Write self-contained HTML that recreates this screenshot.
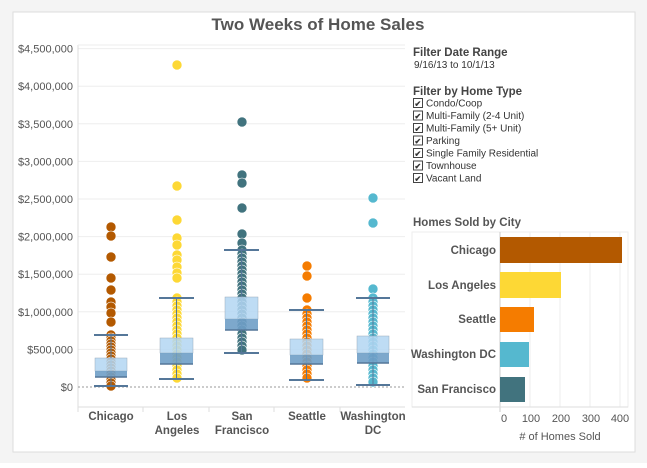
<!DOCTYPE html>
<html><head><meta charset="utf-8"><style>
body{margin:0;background:#fff;width:647px;height:463px;overflow:hidden;font-family:"Liberation Sans",sans-serif}
</style></head><body>
<svg id="s" width="647" height="463" xmlns="http://www.w3.org/2000/svg" font-family="Liberation Sans, sans-serif">
<rect x="0" y="0" width="647" height="463" fill="#f4f4f4"/>
<rect x="13" y="12" width="622" height="440" fill="#fff" stroke="#ddd"/>
<text x="318" y="30" text-anchor="middle" font-size="17" font-weight="bold" fill="#555">Two Weeks of Home Sales</text>
<g id="grid" stroke="#eee" stroke-width="1"></g>
<line x1="78" y1="45" x2="78" y2="407" stroke="#ddd"/>
<line x1="78" y1="45" x2="405" y2="45" stroke="#eee"/>
<line x1="78" y1="407" x2="405" y2="407" stroke="#ddd"/>
<line x1="78" y1="387" x2="405" y2="387" stroke="#999" stroke-dasharray="2,2"/>
<g id="ylab" font-size="11" fill="#555" text-anchor="end"></g>
<g id="dots"></g>
<g id="boxes"></g>
<g font-size="11.5" font-weight="bold" fill="#555" text-anchor="middle">
<text x="111" y="420">Chicago</text>
<text x="177" y="420">Los</text><text x="177" y="434">Angeles</text>
<text x="242" y="420">San</text><text x="242" y="434">Francisco</text>
<text x="307" y="420">Seattle</text>
<text x="373" y="420">Washington</text><text x="373" y="434">DC</text>
</g>
<g stroke="#ddd"><line x1="143" y1="407" x2="143" y2="412"/><line x1="209" y1="407" x2="209" y2="412"/><line x1="274" y1="407" x2="274" y2="412"/><line x1="340" y1="407" x2="340" y2="412"/><line x1="78" y1="407" x2="78" y2="412"/></g>
<g font-size="11.5" fill="#333">
<text x="413" y="56" font-weight="bold" fill="#444">Filter Date Range</text>
<text x="414" y="68" font-size="10">9/16/13 to 10/1/13</text>
<text x="413" y="95" font-weight="bold" fill="#444">Filter by Home Type</text>
</g>
<g id="cb" font-size="10" fill="#333"></g>
<text x="413" y="226" font-size="11.5" font-weight="bold" fill="#555">Homes Sold by City</text>
<rect x="412" y="232" width="216" height="175" fill="none" stroke="#eee"/>
<g stroke="#eee"><line x1="560" y1="232" x2="560" y2="407"/><line x1="590" y1="232" x2="590" y2="407"/><line x1="620" y1="232" x2="620" y2="407"/><line x1="530" y1="232" x2="530" y2="407"/></g>
<line x1="500" y1="232" x2="500" y2="412" stroke="#ccc"/>
<line x1="412" y1="407" x2="628" y2="407" stroke="#ddd"/>
<rect x="500" y="237" width="122" height="26" fill="#b35900"/>
<rect x="500" y="272" width="61" height="26" fill="#fdd835"/>
<rect x="500" y="307" width="34" height="25" fill="#f57c00"/>
<rect x="500" y="342" width="29" height="25" fill="#55b8cf"/>
<rect x="500" y="377" width="25" height="25" fill="#41737e"/>
<g font-size="11.5" font-weight="bold" fill="#555" text-anchor="end">
<text x="496" y="254">Chicago</text><text x="496" y="289">Los Angeles</text><text x="496" y="323">Seattle</text><text x="496" y="358">Washington DC</text><text x="496" y="393">San Francisco</text>
</g>
<g font-size="11" fill="#555" text-anchor="middle">
<text x="504" y="422">0</text><text x="531" y="422">100</text><text x="561" y="422">200</text><text x="591" y="422">300</text><text x="620" y="422">400</text>
<text x="560" y="440">#  of Homes Sold</text>
</g>
</svg>
<script>
var NS="http://www.w3.org/2000/svg",s=document.getElementById('s');
function el(p,t,a,txt){var e=document.createElementNS(NS,t);for(var k in a)e.setAttribute(k,a[k]);if(txt)e.textContent=txt;document.getElementById(p).appendChild(e);}
var labs=["$0","$500,000","$1,000,000","$1,500,000","$2,000,000","$2,500,000","$3,000,000","$3,500,000","$4,000,000","$4,500,000"];
for(var i=0;i<10;i++){var y=387-i*37.6;if(i>0)el('grid','line',{x1:78,x2:405,y1:y,y2:y});el('ylab','text',{x:73,y:y+4},labs[i]);}
var cs=[
{x:111,c:"#b35900",out:[227,236,257,278,290,302,307,313,322],lo:386,hi:335,d:3},
{x:177,c:"#fdd835",out:[65,186,220,238,245,255,260,267,273,278],lo:379,hi:298,d:4},
{x:242,c:"#41737e",out:[122,175,183,208,234,243,253,257,264,270],lo:353,hi:250,d:4},
{x:307,c:"#f57c00",out:[266,276,298],lo:380,hi:310,d:4},
{x:373,c:"#55b8cf",out:[198,223,289,298,302],lo:385,hi:298,d:4}];
cs.forEach(function(c){
 c.out.forEach(function(y){el('dots','circle',{cx:c.x,cy:y,r:5,fill:c.c,stroke:"#fff","stroke-width":0.6});});
 for(var y=c.hi;y<=c.lo;y+=c.d)el('dots','circle',{cx:c.x,cy:y,r:5,fill:c.c,stroke:"#fff","stroke-width":0.6});
});
var bx=[[95,127,335,358,371,377,386],[160,193,298,338,353,364,379],[225,258,250,297,319,330,353],[290,323,310,339,355,364,380],[357,389,298,336,353,363,385]];
bx.forEach(function(b){var m=(b[0]+b[1])/2;
 el('boxes','line',{x1:m,x2:m,y1:b[2],y2:b[6],stroke:"#557799","stroke-width":1});
 el('boxes','rect',{x:b[0],y:b[3],width:b[1]-b[0],height:b[4]-b[3],fill:"#b3d6f2","fill-opacity":0.85,stroke:"#9ab","stroke-width":0.5});
 el('boxes','rect',{x:b[0],y:b[4],width:b[1]-b[0],height:b[5]-b[4],fill:"#6f9fc6","fill-opacity":0.9});
 el('boxes','line',{x1:b[0],x2:b[1],y1:b[5],y2:b[5],stroke:"#557799","stroke-width":1.5});
 el('boxes','line',{x1:b[0]-1,x2:b[1]+1,y1:b[2],y2:b[2],stroke:"#557799","stroke-width":2});
 el('boxes','line',{x1:b[0]-1,x2:b[1]+1,y1:b[6],y2:b[6],stroke:"#557799","stroke-width":2});
});
var items=["Condo/Coop","Multi-Family (2-4 Unit)","Multi-Family (5+ Unit)","Parking","Single Family Residential","Townhouse","Vacant Land"];
items.forEach(function(t,i){var y=98+i*12.5;
 el('cb','rect',{x:413.5,y:y+0.5,width:9,height:9,fill:"#fff",stroke:"#444"});
 el('cb','text',{x:414.5,y:y+8.5,"font-size":8,"font-weight":"bold"},"✔");
 el('cb','text',{x:426,y:y+8.5},t);});
</script>
</body></html>
